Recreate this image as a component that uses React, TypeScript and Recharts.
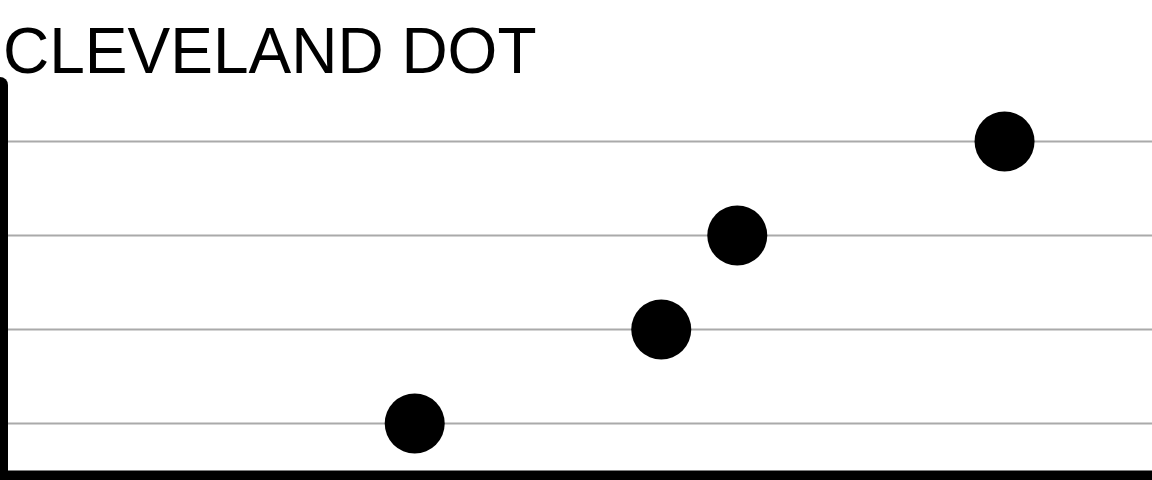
import React from 'react';
import { ScatterChart, Scatter, XAxis, YAxis, CartesianGrid } from 'recharts';

const title = 'CLEVELAND DOT';
const categories = [1, 2, 3, 4];
const values = [36, 57.4, 64, 87.2];
const yTicks = [1, 2, 3, 4];

const data = categories.map((c, i) => ({ cat: c, value: values[i] }));

const Dot = (props: any) => {
  const { cx, cy } = props;
  if (cx == null || cy == null) return null;
  return <circle cx={cx} cy={cy} r={30} fill="#000000" />;
};

const NoTick = () => <g />;

export default function App() {
  return (
    <div style={{ position: 'absolute', left: 0, top: 0, width: 1152, height: 480, background: '#fff', overflow: 'hidden' }}>
      <ScatterChart width={1152} height={480} margin={{ top: 85, right: 0, bottom: -10, left: -10 }}>
        <CartesianGrid horizontal={true} vertical={false} stroke="#aaaaaa" strokeWidth={2} syncWithTicks />
        <XAxis
          type="number"
          dataKey="value"
          domain={[0, 100]}
          height={10}
          tick={NoTick}
          tickLine={false}
          axisLine={{ stroke: '#000000', strokeWidth: 19 }}
        />
        <YAxis
          type="number"
          dataKey="cat"
          domain={[0.4, 4.6]}
          ticks={yTicks}
          interval={0}
          width={10}
          tick={NoTick}
          tickLine={false}
          axisLine={{ stroke: '#000000', strokeWidth: 16, strokeLinecap: 'round' }}
        />
        <Scatter data={data} shape={Dot} isAnimationActive={false} />
      </ScatterChart>
      <svg width={1152} height={480} style={{ position: 'absolute', left: 0, top: 0, pointerEvents: 'none' }}>
        <text x={3} y={72.7} fontSize={64} fontFamily="'Liberation Sans', Arial, sans-serif" fill="#000000">
          {title}
        </text>
      </svg>
    </div>
  );
}
